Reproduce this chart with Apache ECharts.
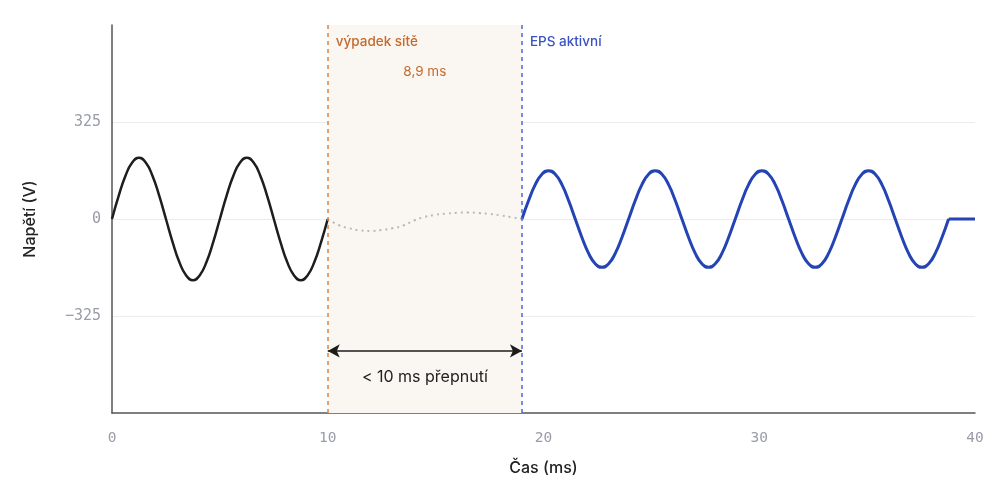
<!DOCTYPE html>
<html>
<head>
<meta charset="utf-8">
<script src="https://cdn.jsdelivr.net/npm/echarts@6/dist/echarts.min.js"></script>
<style>
html,body{margin:0;padding:0;background:#fff;}
#chart{width:1004px;height:485px;}
</style>
</head>
<body>
<div id="chart"></div>
<script>
// Grid voltage before outage (ms, V)
const gridTime = [0,0.3125,0.625,0.9375,1.25,1.5625,1.875,2.1875,2.5,2.8125,3.125,3.4375,3.75,4.0625,4.375,4.6875,
  5,5.3125,5.625,5.9375,6.25,6.5625,6.875,7.1875,7.5,7.8125,8.125,8.4375,8.75,9.0625,9.375,9.6875,10];
const gridVolt = [0,78,145,189,205,189,145,78,0,-78,-145,-189,-205,-189,-145,-78,
  0,78,145,189,205,189,145,78,0,-78,-145,-189,-205,-189,-145,-78,0];
// Residual during outage (dotted)
const gapTime = [10,10.5,11,11.5,12,12.5,13,13.5,14,14.5,15,15.5,16,16.5,17,17.5,18,18.5,19];
const gapVolt = [0,-20,-31,-38,-40,-37,-31,-22,-5,7,14,18,21,22,20,17,12,6,0];
// EPS output
const epsTime = [19.000,19.309,19.618,19.927,20.236,20.545,20.854,21.163,21.472,21.781,22.090,22.399,22.708,23.017,23.326,23.635,
  23.944,24.253,24.562,24.871,25.180,25.489,25.798,26.107,26.416,26.725,27.034,27.343,27.652,27.961,28.270,28.579,
  28.888,29.197,29.506,29.815,30.124,30.433,30.742,31.051,31.360,31.669,31.978,32.287,32.596,32.905,33.214,33.523,
  33.832,34.141,34.450,34.759,35.068,35.377,35.686,35.995,36.304,36.613,36.922,37.231,37.540,37.849,38.158,38.467,38.776];
const epsVolt = [0,62,115,150,162,150,115,62,0,-62,-115,-150,-162,-150,-115,-62,
  0,62,115,150,162,150,115,62,0,-62,-115,-150,-162,-150,-115,-62,
  0,62,115,150,162,150,115,62,0,-62,-115,-150,-162,-150,-115,-62,
  0,62,115,150,162,150,115,62,0,-62,-115,-150,-162,-150,-115,-62,0];
const tailTime = [38.776,40];
const tailVolt = [0,0];
// Events
const outageStart = 10;
const epsStart = 19;
const arrowLevel = -442;
const labelLevel = 593;
const durationLevel = 492;
const yTicks = [-650,-325,0,325,650];
const xTicks = [0,10,20,30,40];

const zip = (a,b) => a.map((v,i)=>[v,b[i]]);
const FONT = 'Inter';

const chart = echarts.init(document.getElementById('chart'));
chart.setOption({
  animation:false,
  grid:{left:112,right:29,top:25,bottom:72},
  xAxis:{
    type:'value', min:xTicks[0], max:xTicks[xTicks.length-1], interval:10,
    name:'Čas (ms)', nameLocation:'middle', nameGap:47,
    nameTextStyle:{fontFamily:FONT,fontSize:16,color:'#222',fontWeight:500},
    axisLine:{show:true,onZero:false,lineStyle:{color:'#555',width:1.5}},
    axisTick:{show:false},
    splitLine:{show:false},
    axisLabel:{fontFamily:'DejaVu Sans Mono',fontSize:14.5,color:'#9a9ca8',margin:18}
  },
  yAxis:{
    type:'value', min:yTicks[0], max:yTicks[yTicks.length-1], interval:325,
    name:'Napětí (V)', nameLocation:'middle', nameGap:74,
    nameTextStyle:{fontFamily:FONT,fontSize:16,color:'#222',fontWeight:500},
    axisLine:{show:true,onZero:false,lineStyle:{color:'#555',width:1.5}},
    axisTick:{show:false},
    splitLine:{show:true,lineStyle:{color:['rgba(0,0,0,0)','#ececef','#ececef','#ececef','rgba(0,0,0,0)'],width:1}},
    axisLabel:{fontFamily:'DejaVu Sans Mono',fontSize:15,color:'#9a9ca8',margin:11,
      showMinLabel:false,showMaxLabel:false,
      formatter:v=>String(v).replace('-','\u2212')}
  },
  series:[
    {
      type:'line', data:zip(gapTime,gapVolt), smooth:true, showSymbol:false, z:2,
      lineStyle:{color:'#b8b8bc',width:2,type:[2,4]},
      markArea:{silent:true,itemStyle:{color:'#faf6f2'},
        data:[[{xAxis:outageStart},{xAxis:epsStart}]]},
      markLine:{silent:true,symbol:'none',animation:false,
        data:[
          {xAxis:outageStart,symbol:'none',lineStyle:{color:'#d9864a',type:[4,4],width:1.5},label:{show:false}},
          {xAxis:epsStart,symbol:'none',lineStyle:{color:'#5468cc',type:[4,4],width:1.5},label:{show:false}},
          [{coord:[outageStart,arrowLevel],symbol:'arrow',symbolSize:[10,12]},
           {coord:[epsStart,arrowLevel],symbol:'arrow',symbolSize:[10,12],
            lineStyle:{color:'#1c1c1c',type:'solid',width:1.5},
            label:{show:true,position:'insideMiddleBottom',distance:18,formatter:'< 10 ms přepnutí',
              fontFamily:FONT,fontSize:16,color:'#222'}}]
        ]
      },
      markPoint:{silent:true,symbol:'circle',symbolSize:0,
        data:[
          {coord:[outageStart,labelLevel],label:{show:true,position:'right',distance:8,formatter:'výpadek sítě',fontFamily:FONT,fontSize:13.5,fontWeight:500,color:'#c46a2c'}},
          {coord:[(outageStart+epsStart)/2,durationLevel],label:{show:true,position:'inside',formatter:'8,9 ms',fontFamily:FONT,fontSize:13.5,color:'#c46a2c'}},
          {coord:[epsStart,labelLevel],label:{show:true,position:'right',distance:8,formatter:'EPS aktivní',fontFamily:FONT,fontSize:13.5,fontWeight:500,color:'#3a52c2'}}
        ]}
    },
    {type:'line', data:zip(gridTime,gridVolt), smooth:true, showSymbol:false, z:3,
      lineStyle:{color:'#1e1e1e',width:2.5}},
    {type:'line', data:zip(epsTime,epsVolt), smooth:true, showSymbol:false, z:3,
      lineStyle:{color:'#2443b5',width:3}},
    {type:'line', data:zip(tailTime,tailVolt), showSymbol:false, z:3,
      lineStyle:{color:'#2443b5',width:3}}
  ]
});
</script>
</body>
</html>
